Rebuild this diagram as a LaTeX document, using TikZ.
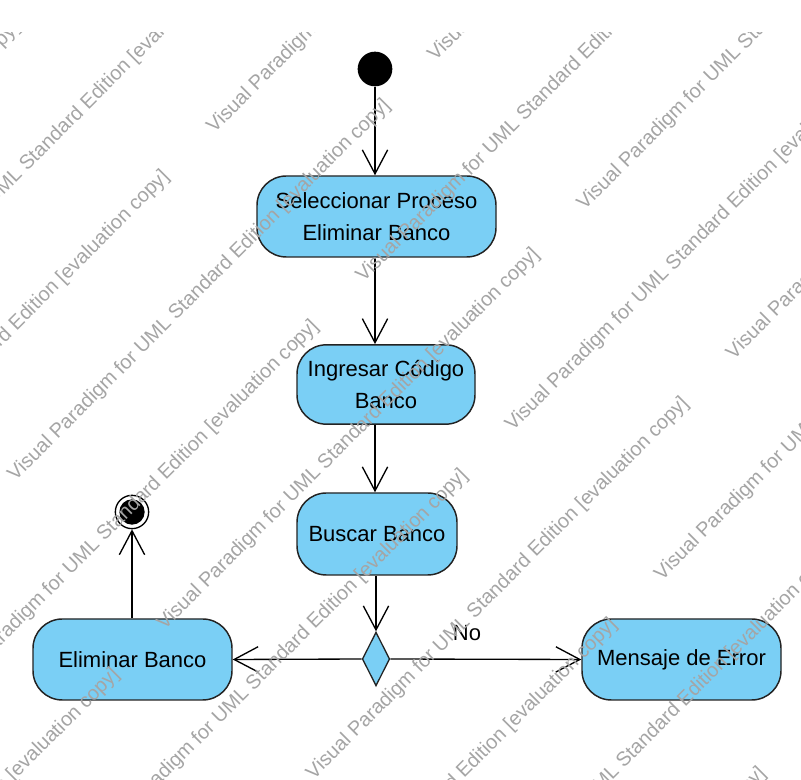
\documentclass[tikz,border=0pt]{standalone}
\usepackage{fontspec}
\setmainfont{Liberation Sans}
\usetikzlibrary{arrows.meta,shapes.geometric}
\definecolor{actfill}{RGB}{122,207,245}
\definecolor{actline}{RGB}{35,35,35}
\definecolor{wmgray}{RGB}{165,165,165}
\begin{document}
\begin{tikzpicture}[x=0.75pt,y=-0.75pt,
  action/.style={draw=actline, line width=1.1pt, fill=actfill, rounded corners=22pt,
    align=center, inner sep=0pt, font=\fontsize{16.5}{23.5}\selectfont},
  flow/.style={draw=black, line width=1pt, -{Straight Barb[length=18pt,width=19pt]}},
  decision/.style={diamond, draw=actline, line width=1pt, fill=actfill, inner sep=0pt,
    minimum width=20.5pt, minimum height=40.5pt},
  lbl/.style={inner sep=0pt, font=\fontsize{16.5}{20}\selectfont},
  wm/.style={text=wmgray, rotate=45, anchor=base west, inner sep=0pt,
    font=\fontsize{15}{18}\selectfont},
]
\useasboundingbox[fill=white] (0,0) rectangle (801,780);

% initial node
\node[circle, fill=black, minimum size=26pt, inner sep=0pt] (start) at (375,69) {};

% actions
\node[action, minimum width=179.25pt, minimum height=60.75pt] (b1) at (376.5,216.5)
  {Seleccionar Proceso\\Eliminar Banco};
\node[action, minimum width=133.5pt, minimum height=59.5pt] (b2) at (386,384.5)
  {Ingresar Código\\Banco};
\node[action, minimum width=120pt, minimum height=61.5pt] (b3) at (377,534)
  {Buscar Banco};
\node[action, minimum width=149.25pt, minimum height=60.75pt] (elim) at (132.5,659.5)
  {Eliminar Banco};
\node[action, minimum width=149.25pt, minimum height=60.75pt] (mens) at (681.5,659.5)
  {Mensaje de Error};

% decision
\node[decision] (dec) at (376,659) {};

% final node
\node[circle, draw=black, line width=1pt, fill=white, minimum size=25pt, inner sep=0pt] (final) at (132,512) {};
\fill[black] (final.center) circle (9.5pt);

% label
\node[lbl] (no) at (467,633) {No};

% flows
\draw[flow] (start) -- (start |- b1.north);
\draw[flow] (b1.south -| start) -- (b2.north -| start);
\draw[flow] (b2.south -| start) -- (b3.north -| start);
\draw[flow] (b3.south -| dec) -- (dec.north);
\draw[flow] (dec.west) -- (elim.east);
\draw[flow] (dec.east) -- (mens.west);
\draw[flow] (elim.north -| final) -- (final.south);

% watermark
\begin{scope}
\clip (0,33) rectangle (801,780);
\foreach \k in {0,...,10}{
  \foreach \m in {-2,...,1}{
    \pgfmathsetmacro\nn{35+105.5*\k}
    \pgfmathsetmacro\uu{57-387*mod(\k,2)+594*\m}
    \pgfmathsetmacro\px{(\uu+\nn)*0.7071}
    \pgfmathsetmacro\py{(\nn-\uu)*0.7071}
    \node[wm] at (\px,\py) {Visual Paradigm for UML Standard Edition [evaluation copy]};
  }
}
\end{scope}
\end{tikzpicture}
\end{document}
